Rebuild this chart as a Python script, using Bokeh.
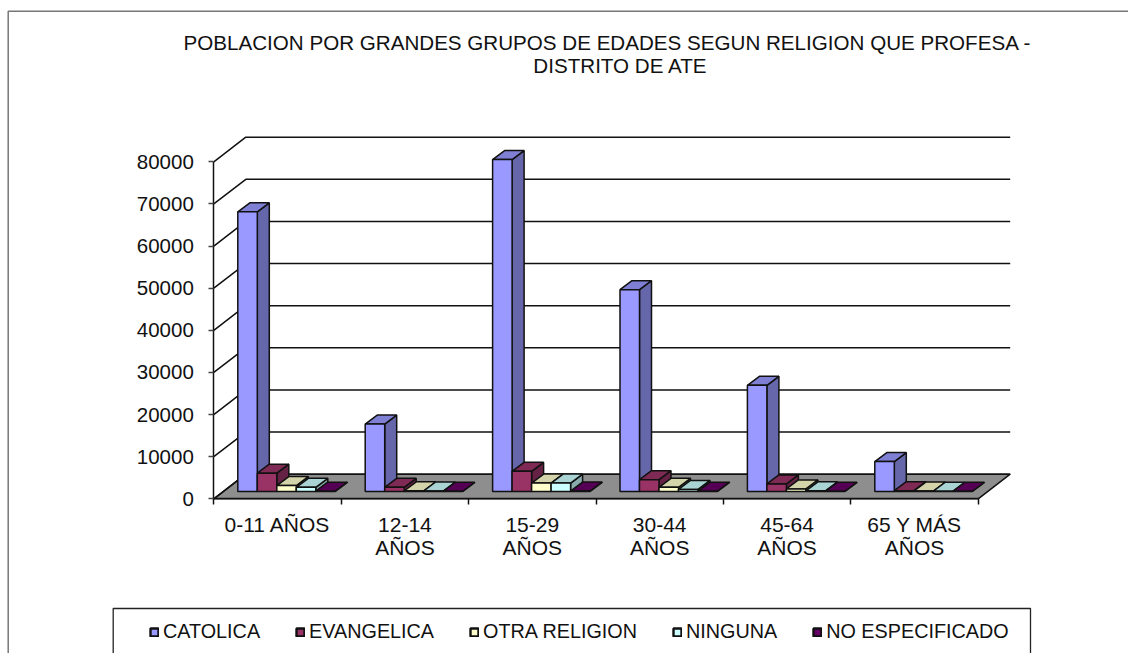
from bokeh.plotting import figure
from bokeh.models import Range1d, FixedTicker, Label, BoxAnnotation, Legend, LegendItem
from bokeh.embed import file_html
from bokeh.resources import INLINE

categories = ["0-11 AÑOS", "12-14\nAÑOS", "15-29\nAÑOS", "30-44\nAÑOS", "45-64\nAÑOS", "65 Y MÁS\nAÑOS"]
catolica = [66400, 16000, 78800, 47900, 25200, 7100]
evangelica = [4350, 1000, 4800, 2800, 1800, 200]
otra = [1400, 150, 2000, 1000, 600, 100]
ninguna = [1000, 120, 2000, 500, 150, 60]
no_especificado = [80, 40, 90, 70, 50, 30]
series_names = ["CATOLICA", "EVANGELICA", "OTRA RELIGION", "NINGUNA", "NO ESPECIFICADO"]
y_ticks = [0, 10000, 20000, 30000, 40000, 50000, 60000, 70000, 80000]
front_colors = ["#9999FF", "#993366", "#FFFFCC", "#CCFFFF", "#660066"]
top_colors = ["#7F7FD4", "#7F2A55", "#D4D4AA", "#AAD4D4", "#550055"]
side_colors = ["#6666AA", "#662244", "#AAAA88", "#88AAAA", "#440044"]
all_series = [catolica, evangelica, otra, ninguna, no_especificado]

TITLE1 = "POBLACION POR GRANDES GRUPOS DE EDADES SEGUN RELIGION QUE PROFESA -"
TITLE2 = "DISTRITO DE ATE"
FONT = "Liberation Sans"

# page-pixel geometry: the frame fills the whole canvas
W, H = 1128, 653
X0, Y0 = 213.3, 498.3
CAT_PX = 127.4
VAL_PX = 337.0 / 80000
sx = lambda px: (px - X0) / CAT_PX
sy = lambda px: (Y0 - px) / VAL_PX
dxu = lambda px: px / CAT_PX
dyu = lambda px: px / VAL_PX

p = figure(width=W, height=H, output_backend="svg", toolbar_location=None,
           x_range=Range1d(sx(0), sx(W)), y_range=Range1d(sy(H), sy(0)),
           min_border_left=0, min_border_right=0, min_border_top=0, min_border_bottom=0,
           outline_line_color=None, background_fill_color="white", border_fill_color="white")
p.xgrid.visible = False
p.ygrid.visible = False

LINE = "#111111"
TXT = "#111111"
LW = 1.5
p.yaxis.fixed_location = 0
p.yaxis.ticker = FixedTicker(ticks=y_ticks)
p.yaxis.bounds = (0, 80000)
p.yaxis.major_tick_out = 5
p.yaxis.major_tick_in = 0
p.yaxis.minor_tick_out = 0
p.yaxis.minor_tick_in = 0
p.yaxis.axis_line_color = LINE
p.yaxis.axis_line_width = LW
p.yaxis.major_tick_line_color = "#444444"
p.yaxis.major_tick_line_width = LW
p.yaxis.major_label_text_font = FONT
p.yaxis.major_label_text_font_size = "20.5px"
p.yaxis.major_label_text_color = TXT
p.yaxis.major_label_standoff = 15

n = len(categories)
p.xaxis.fixed_location = 0
p.xaxis.ticker = FixedTicker(ticks=[i + 0.5 for i in range(n)], minor_ticks=list(range(n + 1)))
p.xaxis.bounds = (0, n)
p.xaxis.major_label_overrides = {i + 0.5: c for i, c in enumerate(categories)}
p.xaxis.major_tick_out = 0
p.xaxis.major_tick_in = 0
p.xaxis.minor_tick_out = 6
p.xaxis.minor_tick_in = 0
p.xaxis.minor_tick_line_color = LINE
p.xaxis.minor_tick_line_width = LW
p.xaxis.axis_line_color = LINE
p.xaxis.axis_line_width = LW
p.xaxis.major_label_text_font = FONT
p.xaxis.major_label_text_font_size = "21px"
p.xaxis.major_label_text_color = TXT
p.xaxis.major_label_text_line_height = 1.02
p.xaxis.major_label_standoff = 8

# oblique depth
DX, DY = dxu(32), dyu(24.6)
p.patch([0, n, n + DX, DX], [0, 0, DY, DY], fill_color="#8E8E8E", line_color=LINE, line_width=LW)
gx, gy = [], []
for v in y_ticks:
    gx.append([0, DX, n + DX])
    gy.append([v, v + DY, v + DY])
p.multi_line(gx, gy, line_color=LINE, line_width=LW)

# bars
BW = 19.5 / CAT_PX
MARGIN = 15 / CAT_PX
OX, OY = dxu(9), dyu(7.3)
BX, BY = dxu(12), dyu(9)
NAN = float("nan")
legend_renderers = []
for s, vals in enumerate(all_series):
    lefts = [i + MARGIN + OX + s * BW for i in range(n)]
    rights = [l + BW for l in lefts]
    tops = [OY + v for v in vals]
    p.patches([[r, r + BX, r + BX, r] for r in rights],
              [[OY, OY + BY, t + BY, t] for t in tops],
              fill_color=side_colors[s], line_color=LINE, line_width=LW)
    p.patches([[l, r, r + BX, l + BX] for l, r in zip(lefts, rights)],
              [[t, t, t + BY, t + BY] for t in tops],
              fill_color=top_colors[s], line_color=LINE, line_width=LW)
    p.quad(left=lefts, right=rights, bottom=[OY] * n, top=tops,
           fill_color=front_colors[s], line_color=LINE, line_width=LW)
    # undrawn renderer that only gives the legend its heavier swatch outline
    legend_renderers.append(p.quad(left=[NAN], right=[NAN], bottom=[NAN], top=[NAN],
                                   fill_color=front_colors[s], line_color="#111111", line_width=2.4))

# chart border and legend box
p.add_layout(BoxAnnotation(left=sx(7.7), right=sx(1300), top=sy(10.7), bottom=sy(800), fill_alpha=0,
                           line_color="#777777", line_width=1.5, line_alpha=1))
p.add_layout(BoxAnnotation(left=sx(112.7), right=sx(1030), top=sy(608), bottom=sy(800), fill_alpha=0,
                           line_color="#222222", line_width=1.3, line_alpha=1))

# title
p.add_layout(Label(x=sx(607), y=sy(42), text=TITLE1, text_align="center", text_baseline="middle",
                   text_font=FONT, text_font_size="20.6px", text_color=TXT))
p.add_layout(Label(x=sx(620), y=sy(65), text=TITLE2, text_align="center", text_baseline="middle",
                   text_font=FONT, text_font_size="20.6px", text_color=TXT))

legend = Legend(items=[LegendItem(label=nm, renderers=[r]) for nm, r in zip(series_names, legend_renderers)],
                orientation="horizontal", location=(149, H - 643),
                border_line_color=None, background_fill_alpha=0, padding=0, margin=0,
                spacing=35, glyph_width=10, glyph_height=10, label_standoff=4,
                label_text_font=FONT, label_text_font_size="19.8px", label_text_color=TXT,
                label_height=22)
p.add_layout(legend)

open("out.html", "w").write(file_html(p, INLINE))
